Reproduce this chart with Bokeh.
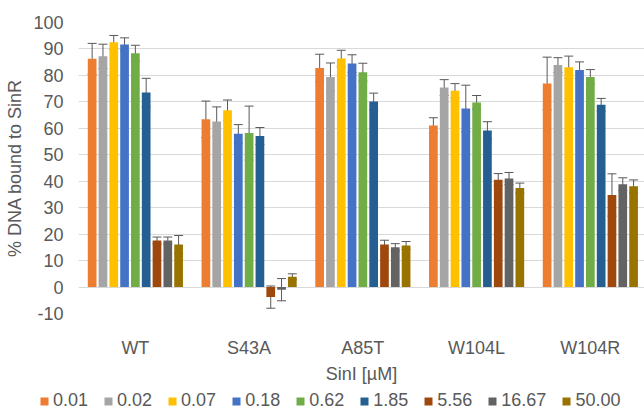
from bokeh.plotting import figure
from bokeh.models import (Range1d, FixedTicker, Whisker, ColumnDataSource, Legend,
                          LegendItem, TeeHead, Title)
from bokeh.embed import file_html
from bokeh.resources import INLINE

groups = ["WT", "S43A", "A85T", "W104L", "W104R"]
concs = ["0.01", "0.02", "0.07", "0.18", "0.62", "1.85", "5.56", "16.67", "50.00"]
colors = ["#ED7D31", "#A5A5A5", "#FFC000", "#4472C4", "#70AD47",
          "#255E91", "#9E480E", "#636363", "#997300"]

v_001 = [86.3, 63.4, 82.8, 61.1, 76.9]
e_001 = [5.8, 6.9, 5.2, 2.9, 10.0]
v_002 = [87.2, 62.6, 79.4, 75.4, 83.9]
e_002 = [4.6, 5.5, 5.3, 3.0, 2.8]
v_007 = [92.5, 66.8, 86.4, 74.2, 83.1]
e_007 = [2.6, 3.9, 3.1, 2.7, 4.2]
v_018 = [91.7, 57.9, 84.5, 67.5, 82.0]
e_018 = [2.5, 3.5, 3.3, 8.8, 3.1]
v_062 = [88.4, 58.2, 81.2, 69.8, 79.4]
e_062 = [3.0, 10.2, 3.4, 2.6, 2.8]
v_185 = [73.5, 57.1, 70.1, 59.2, 68.9]
e_185 = [5.4, 3.2, 3.2, 3.3, 2.4]
v_556 = [17.6, -3.8, 16.1, 40.6, 34.8]
e_556 = [1.3, 4.2, 1.6, 2.3, 8.0]
v_1667 = [17.6, -1.0, 15.0, 41.0, 38.9]
e_1667 = [1.3, 4.2, 1.4, 2.3, 2.4]
v_5000 = [16.1, 3.9, 15.7, 37.4, 38.1]
e_5000 = [3.4, 1.1, 1.5, 1.9, 2.4]

values = [v_001, v_002, v_007, v_018, v_062, v_185, v_556, v_1667, v_5000]
errors = [e_001, e_002, e_007, e_018, e_062, e_185, e_556, e_1667, e_5000]
y_ticks = list(range(-10, 101, 10))

FONT = "Liberation Sans"
TXT = "#595959"
pitch = 0.095
bw = 0.0765

p = figure(width=644, height=384, output_backend="svg", toolbar_location=None,
           x_range=Range1d(0, 4.976), y_range=Range1d(-10, 100),
           min_border_top=22, min_border_right=0, min_border_left=78,
           min_border_bottom=71)
p.outline_line_color = None
p.background_fill_color = "white"
p.border_fill_color = "white"

# legend strip figure (separate root, directly below the chart)
lg = figure(width=644, height=29, output_backend="svg", toolbar_location=None,
            x_range=Range1d(0, 1), y_range=Range1d(0, 1),
            x_axis_location=None, y_axis_location=None, min_border=0)
lg.outline_line_color = None
lg.grid.visible = False

items = []
for j, (c, col, vals, errs) in enumerate(zip(concs, colors, values, errors)):
    xs = [i + 0.5 + (j - 4) * pitch for i in range(len(groups))]
    src = ColumnDataSource(dict(x=xs, top=vals,
                                upper=[v + e for v, e in zip(vals, errs)],
                                lower=[v - e for v, e in zip(vals, errs)]))
    p.vbar(x="x", top="top", bottom=0, width=bw, source=src,
           fill_color=col, line_color=None)
    w = Whisker(base="x", upper="upper", lower="lower", source=src,
                line_color="#595959", line_width=1,
                upper_head=TeeHead(size=9, line_color="#595959", line_width=1),
                lower_head=TeeHead(size=9, line_color="#595959", line_width=1))
    p.add_layout(w)
    # swatch renderer for the legend strip (hidden, same data)
    r = lg.vbar(x="x", top="top", bottom=0, width=bw, source=src,
                fill_color=col, line_color=None, visible=False)
    items.append(LegendItem(label=c, renderers=[r]))

# axes
p.xaxis.ticker = FixedTicker(ticks=[i + 0.5 for i in range(len(groups))])
p.xaxis.major_label_overrides = {i + 0.5: g for i, g in enumerate(groups)}
p.yaxis.ticker = FixedTicker(ticks=y_ticks)
p.yaxis.major_label_overrides = {t: str(t) for t in y_ticks}
for ax in (p.xaxis, p.yaxis):
    ax.axis_line_color = None
    ax.major_tick_line_color = None
    ax.minor_tick_line_color = None
    ax.major_tick_out = 0
    ax.major_tick_in = 0
    ax.minor_tick_out = 0
    ax.major_label_text_font = FONT
    ax.major_label_text_font_size = "18px"
    ax.major_label_text_color = TXT
p.xaxis.major_label_standoff = 24
p.yaxis.major_label_standoff = 15
p.yaxis.axis_label = "% DNA bound to SinR"
p.yaxis.axis_label_text_font = FONT
p.yaxis.axis_label_text_font_size = "18px"
p.yaxis.axis_label_text_font_style = "normal"
p.yaxis.axis_label_text_color = TXT
p.yaxis.axis_label_standoff = 5

p.xgrid.grid_line_color = None
p.ygrid.ticker = FixedTicker(ticks=y_ticks)
p.ygrid.grid_line_color = "#D9D9D9"
p.ygrid.grid_line_width = 1

t = Title(text="SinI [µM]", align="center", offset=-37, text_font=FONT,
          text_font_size="18px", text_font_style="normal", text_color=TXT,
          standoff=2)
p.add_layout(t, "below")

legend = Legend(items=items, orientation="horizontal", location=(39, 2),
                glyph_width=10, glyph_height=10, label_standoff=4, spacing=15,
                label_text_font=FONT, label_text_font_size="18px",
                label_text_color=TXT, border_line_color=None,
                background_fill_alpha=0, padding=0, margin=0,
                inactive_fill_alpha=0)
lg.add_layout(legend)

open("out.html", "w").write(file_html([p, lg], INLINE))
